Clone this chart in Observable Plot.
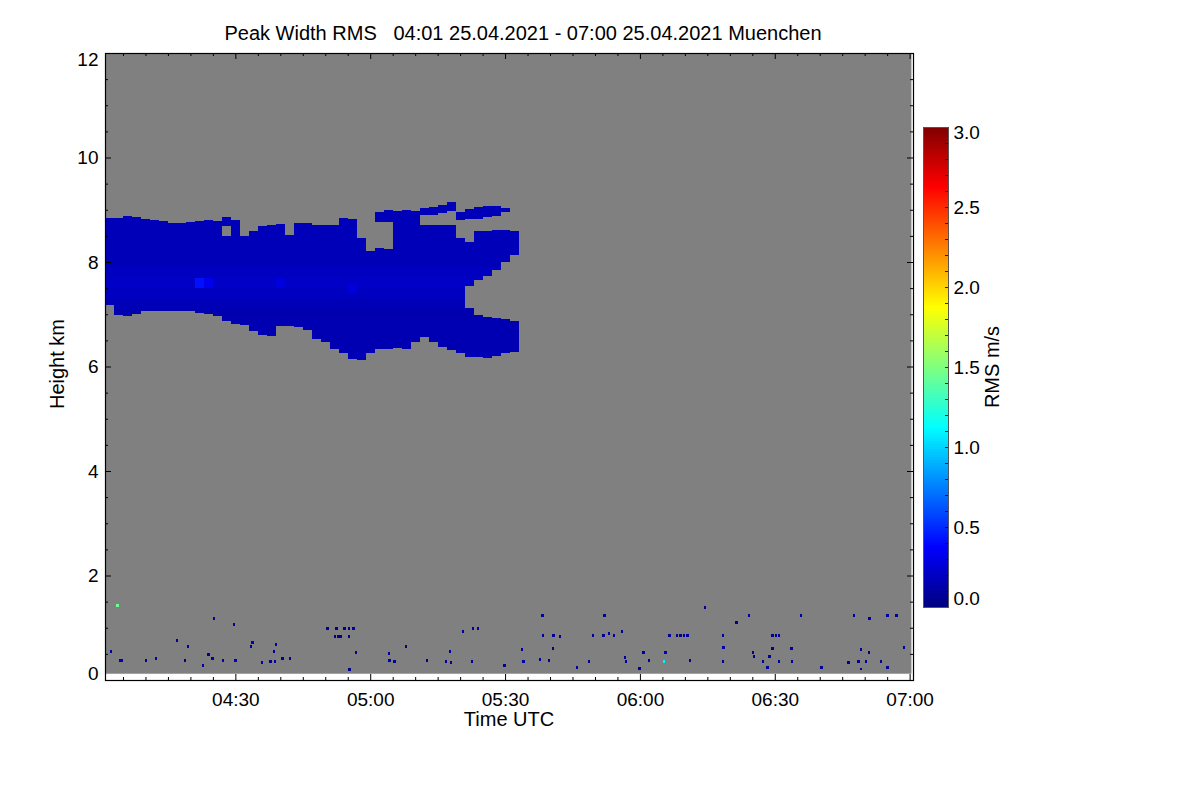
<!DOCTYPE html>
<html><head><meta charset="utf-8">
<script src="https://cdn.jsdelivr.net/npm/d3@7"></script>
<script src="https://cdn.jsdelivr.net/npm/@observablehq/plot@0.6"></script>
<style>
body{margin:0;background:#fff;font-family:"Liberation Sans",Arial,Helvetica,sans-serif;}
#wrap{position:relative;width:1200px;height:800px;overflow:hidden;background:#fff;}
.abs{position:absolute;white-space:pre;color:#000;line-height:1;}
#wrap svg{position:absolute;}
</style></head><body><div id="wrap"></div>
<script>
// ---------- DATA (minutes after 04:00 UTC, heights in km, RMS in m/s) ----------
const titleText = "Peak Width RMS   04:01 25.04.2021 - 07:00 25.04.2021 Muenchen";
const dataStart = 1, dataEnd = 180.4;      // measured period (min after 04:00)
const gateBottom = 0.12, gateTop = 12;     // lowest/highest range gate (km)

// cloud body: 2-minute columns, centre times, bottom / top of echo
const colT = [2,4,6,8,10,12,14,16,18,20,22,24,26,28,30,32,34,36,38,40,42,44,46,48,50,52,54,56,58,60,62,64,66,68,70,72,74,76,78,80,82,84,86,88,90,92];
const colTop = [8.85,8.85,8.88,8.86,8.83,8.80,8.79,8.75,8.75,8.77,8.79,8.80,8.79,8.86,8.80,8.49,8.60,8.68,8.70,8.72,8.51,8.74,8.74,8.70,8.70,8.71,8.84,8.83,8.45,8.22,8.26,8.24,8.98,9.00,8.98,8.70,8.70,8.70,8.70,8.45,8.39,8.60,8.60,8.62,8.62,8.60];
const colBottom = [7.17,6.98,6.96,7.01,7.06,7.06,7.07,7.07,7.07,7.06,7.02,7.01,6.96,6.88,6.82,6.79,6.68,6.61,6.58,6.77,6.77,6.75,6.69,6.52,6.47,6.33,6.25,6.15,6.12,6.25,6.33,6.33,6.35,6.33,6.47,6.56,6.47,6.37,6.31,6.25,6.18,6.18,6.17,6.21,6.25,6.28];
// echo-free gaps inside columns
const gapT = [28,82,84,86,88,90,92];
const gapBottom = [8.50,7.12,6.99,6.94,6.92,6.91,6.88];
const gapTop = [8.68,7.54,7.65,7.74,7.84,8.00,8.13];
// detached fragments above the body
const fragT = [62,64,72,74,76,78,80,82,84,86,88,90];
const fragBottom = [8.76,8.76,8.89,8.90,8.94,8.97,8.80,8.82,8.83,8.86,8.88,8.95];
const fragTop = [8.95,9.00,9.03,9.06,9.10,9.15,8.95,9.02,9.05,9.08,9.08,9.03];
// typical RMS by height inside the cloud
const profH = [6.0,6.2,6.4,6.6,6.8,7.0,7.2,7.4,7.6,7.8,8.0,8.2,8.4,8.6,8.8,9.0];
const profV = [0.16,0.16,0.15,0.15,0.15,0.14,0.16,0.19,0.21,0.19,0.17,0.17,0.17,0.17,0.17,0.17];
// brighter spots
const spotT = [22,24,40,56];
const spotH = [7.6,7.6,7.6,7.5];
const spotV = [0.42,0.32,0.28,0.26];

// isolated low-level echoes
const dotT = [2.3,3.8,4.3,4.7,10.1,12.3,17.1,18.8,19.5,22.8,24.0,24.9,25.3,27.3,29.7,29.9,30.2,33.4,33.8,35.9,37.8,38.6,38.8,39.1,40.5,42.1,50.5,52.5,54.3,55.3,56.3,52.1,52.8,53.4,55.2,55.4,56.9,64.2,64.3,65.4,68.0,72.6,76.8,77.8,78.0,80.6,82.8,83.9,82.6,89.9,93.7,94.1,97.7,98.3,98.4,99.7,100.6,100.8,102.3,106.0,108.6,109.5,111.9,112.1,113.2,114.3,116.0,116.6,116.9,119.9,120.8,122.0,125.4,125.7,126.6,128.2,129.0,129.8,130.6,131.2,134.5,138.4,138.6,138.4,141.5,144.2,145.1,145.4,147.3,148.4,148.8,149.5,149.5,150.3,151.0,151.0,153.7,153.9,155.8,160.4,166.4,167.7,168.6,169.1,169.1,170.3,170.9,171.1,173.7,175.1,175.1,177.1,178.8];
const dotH = [0.54,1.43,0.38,0.38,0.38,0.42,0.76,0.38,0.64,0.27,0.48,0.41,1.17,0.37,1.07,0.38,0.38,0.64,0.71,0.34,0.36,0.54,0.35,0.68,0.41,0.42,0.98,0.98,0.98,0.98,0.98,0.83,0.83,0.83,0.83,0.20,0.53,0.51,0.38,0.36,0.64,0.38,0.36,0.54,0.33,0.92,0.98,0.98,0.36,0.28,0.59,0.36,0.39,1.23,0.85,0.37,0.61,0.85,0.83,0.24,0.36,0.85,0.85,1.23,0.89,0.85,0.92,0.43,0.36,0.22,0.52,0.38,0.36,0.52,0.85,0.85,0.85,0.85,0.85,0.38,1.38,0.85,0.63,0.36,1.10,1.23,0.52,0.45,0.36,0.24,0.45,0.61,0.85,0.85,0.85,0.35,0.61,0.35,1.23,0.24,0.33,1.23,0.35,0.59,0.21,0.35,0.52,1.17,0.36,1.23,0.24,1.23,0.63];
const dotV = [0.06,1.45,0.12,0.12,0.06,0.15,0.06,0.06,0.06,0.06,0.06,0.12,0.12,0.12,0.12,0.15,0.15,0.12,0.15,0.12,0.06,0.06,0.12,0.12,0.06,0.12,0.06,0.06,0.06,0.06,0.06,0.06,0.06,0.06,0.06,0.03,0.12,0.06,0.12,0.12,0.06,0.06,0.06,0.06,0.12,0.06,0.09,0.09,0.06,0.06,0.06,0.12,0.06,0.12,0.06,0.12,0.06,0.06,0.09,0.06,0.06,0.06,0.06,0.09,0.09,0.06,0.06,0.06,0.06,0.06,0.06,0.06,1.10,0.15,0.06,0.06,0.06,0.09,0.06,0.09,0.06,0.06,0.12,0.06,0.03,0.09,0.06,0.06,0.06,0.06,0.06,0.06,0.06,0.06,0.06,0.09,0.06,0.09,0.09,0.06,0.06,0.09,0.09,0.06,0.06,0.09,0.06,0.09,0.06,0.09,0.06,0.09,0.09];

// axis ticks
const xMajorMin = [30,60,90,120,150,180];
const xMinorMin = [5,10,15,20,25,35,40,45,50,55,65,70,75,80,85,95,100,105,110,115,125,130,135,140,145,155,160,165,170,175];
const yMajor = [0,2,4,6,8,10,12];
const yMinor = [0.5,1,1.5,2.5,3,3.5,4.5,5,5.5,6.5,7,7.5,8.5,9,9.5,10.5,11,11.5];
const cbLabels = [0,0.5,1.0,1.5,2.0,2.5,3.0];
const jetStops = ["#00007f","#0000ff","#007fff","#00ffff","#7fff7f","#ffff00","#ff7f00","#ff0000","#7f0000"];

// ---------- BUILD ----------
const base = Date.UTC(2021,3,25,4,0,0);
const T = m => new Date(base + m*60000);
const W = 808, H = 627;
const font = '"Liberation Sans", Arial, Helvetica, sans-serif';
const color = {type:"linear", domain: jetStops.map((_, i) => i*3/(jetStops.length-1)), range: jetStops, clamp: true};

function profileValue(h){
  let best = 0;
  for (let i = 1; i < profH.length; i++) if (Math.abs(profH[i]-h) < Math.abs(profH[best]-h)) best = i;
  return profV[best];
}
const cells = [];
colT.forEach((t, i) => {
  let segs = [[colBottom[i], colTop[i]]];
  const g = gapT.indexOf(t);
  if (g >= 0) segs = [[colBottom[i], gapBottom[g]], [gapTop[g], colTop[i]]];
  const f = fragT.indexOf(t);
  if (f >= 0) segs.push([fragBottom[f], fragTop[f]]);
  for (const [lo, hi] of segs) {
    for (let k = Math.floor(lo*10); k < Math.ceil(hi*10); k++) {
      const y1 = Math.max(lo, k/10), y2 = Math.min(hi, (k+1)/10);
      if (y2 <= y1) continue;
      const hc = (y1+y2)/2;
      let v = profileValue(hc);
      spotT.forEach((st, j) => { if (Math.abs(st - t) < 1.5 && Math.abs(spotH[j] - hc) < 0.12) v = Math.max(v, spotV[j]); });
      cells.push({x1: T(t-1), x2: T(t+1), y1, y2, v});
    }
  }
});
const dots = dotT.map((t, i) => ({x1: T(t-0.25), x2: T(t+0.25), y1: dotH[i]-0.028, y2: dotH[i]+0.028, v: dotV[i]}));
const bg = [{x1: T(dataStart), x2: T(dataEnd), y1: gateBottom, y2: gateTop}];
const fmt = d3.utcFormat("%H:%M");

const main = Plot.plot({
  width: 1200, height: 800,
  marginLeft: 105, marginRight: 287, marginTop: 53, marginBottom: 120,
  x: {type: "utc", domain: [T(1), T(180.75)], axis: null},
  y: {domain: [0, 12], axis: null},
  color,
  style: {fontFamily: font, fontSize: "19px", background: "transparent", color: "#000"},
  marks: [
    Plot.rect(bg, {x1: "x1", x2: "x2", y1: "y1", y2: "y2", fill: "#808080"}),
    Plot.rect(cells, {x1: "x1", x2: "x2", y1: "y1", y2: "y2", fill: "v", shapeRendering: "crispEdges"}),
    Plot.rect(dots, {x1: "x1", x2: "x2", y1: "y1", y2: "y2", fill: "v", shapeRendering: "crispEdges"}),
    Plot.frame({stroke: "#000", strokeWidth: 1.2}),
    // inward ticks on all four sides
    Plot.ruleX(xMajorMin, {x: d => T(d), insetTop: H-6, stroke: "#000"}),
    Plot.ruleX(xMinorMin, {x: d => T(d), insetTop: H-3, stroke: "#000"}),
    Plot.ruleX(xMajorMin, {x: d => T(d), insetBottom: H-6, stroke: "#000"}),
    Plot.ruleX(xMinorMin, {x: d => T(d), insetBottom: H-3, stroke: "#000"}),
    Plot.ruleY(yMajor, {y: d => d, insetRight: W-6, stroke: "#000"}),
    Plot.ruleY(yMinor, {y: d => d, insetRight: W-3, stroke: "#000"}),
    Plot.ruleY(yMajor, {y: d => d, insetLeft: W-6, stroke: "#000"}),
    Plot.ruleY(yMinor, {y: d => d, insetLeft: W-3, stroke: "#000"}),
    // tick labels
    Plot.text(xMajorMin, {x: d => T(d), frameAnchor: "bottom", lineAnchor: "top", dy: 12, text: d => fmt(T(d)), fill: "#000"}),
    Plot.text(yMajor.slice(1, -1), {y: d => d, frameAnchor: "left", textAnchor: "end", dx: -7, text: d => String(d), fill: "#000"}),
    Plot.text([yMajor[0]], {y: d => d, frameAnchor: "left", textAnchor: "end", dx: -7, dy: -7, text: d => String(d), fill: "#000"}),
    Plot.text([yMajor[yMajor.length-1]], {y: d => d, frameAnchor: "left", textAnchor: "end", dx: -7, dy: 6, text: d => String(d), fill: "#000"})
  ]
});
main.style.left = "0px"; main.style.top = "0px";

const cbBins = d3.range(0, 300).map(i => i/100);
const cbMinor = d3.range(1, 30).map(i => i/10);
const cb = Plot.plot({
  width: 120, height: 530,
  marginLeft: 23, marginRight: 72, marginTop: 27, marginBottom: 23,
  x: {domain: [0, 1], axis: null},
  y: {domain: [0, 3], axis: null},
  color,
  style: {fontFamily: font, fontSize: "19px", background: "transparent", color: "#000"},
  marks: [
    Plot.rect(cbBins, {x1: () => 0, x2: () => 1, y1: d => d, y2: d => d + 0.01, fill: d => d + 0.005, shapeRendering: "crispEdges"}),
    Plot.frame({stroke: "#555", strokeWidth: 1}),
    Plot.ruleY(cbMinor, {y: d => d, insetLeft: 22, stroke: "#000", strokeWidth: 0.8}),
    Plot.text(cbLabels.slice(1, -1), {y: d => d, frameAnchor: "right", textAnchor: "start", dx: 5, text: d => d3.format(".1f")(d), fill: "#000"}),
    Plot.text([cbLabels[0]], {y: d => d, frameAnchor: "right", textAnchor: "start", dx: 5, dy: -9, text: d => d3.format(".1f")(d), fill: "#000"}),
    Plot.text([cbLabels[cbLabels.length-1]], {y: d => d, frameAnchor: "right", textAnchor: "start", dx: 5, dy: 5, text: d => d3.format(".1f")(d), fill: "#000"})
  ]
});
cb.style.left = "900px"; cb.style.top = "100px";

const wrap = document.getElementById("wrap");
wrap.appendChild(main);
wrap.appendChild(cb);
function addText(txt, x, y, size, rot){
  const d = document.createElement("div");
  d.className = "abs";
  d.textContent = txt;
  d.style.left = x + "px"; d.style.top = y + "px";
  d.style.fontSize = size + "px";
  d.style.transform = "translate(-50%,-50%)" + (rot ? " rotate(-90deg)" : "");
  wrap.appendChild(d);
}
addText(titleText, 523, 33, 20, false);
addText("Height km", 57, 364, 20, true);
addText("Time UTC", 509, 719, 20, false);
addText("RMS m/s", 992, 367, 20, true);
</script>
</body></html>
